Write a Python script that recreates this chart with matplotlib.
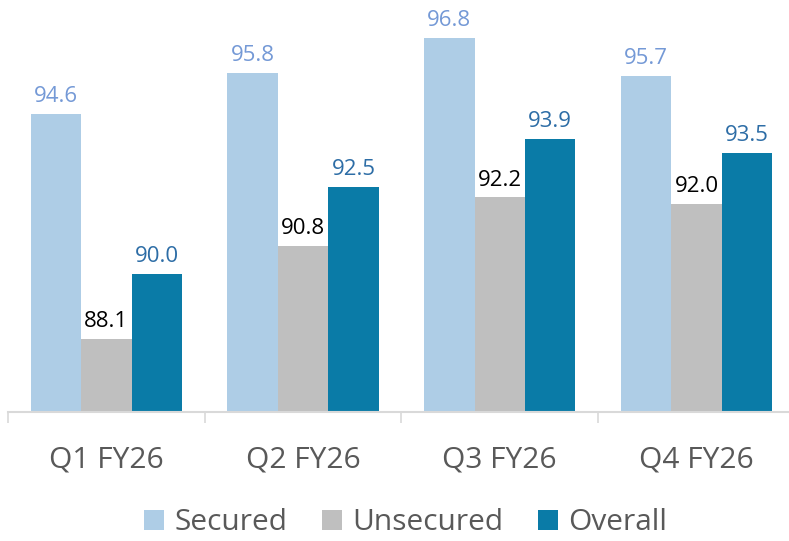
import matplotlib
matplotlib.use("Agg")
import matplotlib.pyplot as plt
import matplotlib.transforms as mtransforms
import numpy as np
from matplotlib.patches import Patch

plt.rcParams['font.family'] = ['Open Sans', 'DejaVu Sans']

categories = ["Q1 FY26", "Q2 FY26", "Q3 FY26", "Q4 FY26"]
secured = [94.6, 95.8, 96.8, 95.7]
unsecured = [88.1, 90.8, 92.2, 92.0]
overall = [90.0, 92.5, 93.9, 93.5]
series_names = ["Secured", "Unsecured", "Overall"]

bar_colors = ["#AECDE6", "#BFBFBF", "#0A7BA7"]
label_colors = ["#7499D6", "#000000", "#2D6DA6"]

W, H = 789, 541
fig = plt.figure(figsize=(W / 100, H / 100), dpi=100)
left_px, right_px = 8, 8 + 4 * 196.7
bottom_px = 412
ymin, ymax = 86.0, 98.0
px_per_unit = 34.6
top_px = bottom_px - (ymax - ymin) * px_per_unit
ax = fig.add_axes([left_px / W, 1 - bottom_px / H, (right_px - left_px) / W, (bottom_px - top_px) / H])
ax.set_xlim(0, 4)
ax.set_ylim(ymin, ymax)

x = np.arange(len(categories)) + 0.5
bw = 0.2565
data = [secured, unsecured, overall]
for i, (vals, c, lc) in enumerate(zip(data, bar_colors, label_colors)):
    xs = x + (i - 1) * bw
    ax.bar(xs, np.array(vals) - ymin, bottom=ymin, width=bw, color=c, edgecolor='none', zorder=2)
    for xi, v in zip(xs, vals):
        ax.annotate(f"{v:.1f}", (xi, v), xytext=(0, 5), textcoords='offset points',
                    ha='center', va='bottom', fontsize=16, color=lc)

for s in ['top', 'right', 'left']:
    ax.spines[s].set_visible(False)
ax.spines['bottom'].set_color('#D9D9D9')
ax.spines['bottom'].set_linewidth(1.5)
ax.set_yticks([])
ax.set_xticks([0, 1, 2, 3, 4])
ax.set_xticklabels([])
ax.tick_params(axis='x', which='major', length=8, width=1.2, color='#D9D9D9', direction='out')
off = mtransforms.ScaledTranslation(0, -48 / 100, fig.dpi_scale_trans)
for xi, cat in zip(x, categories):
    ax.text(xi, ymin, cat, transform=ax.transData + off, ha='center', va='center',
            fontsize=21.5, color='#595959')

handles = [Patch(facecolor=c, edgecolor='none') for c in bar_colors]
leg = fig.legend(handles, series_names, loc='center', bbox_to_anchor=(406 / W, 1 - 523 / H),
                 ncol=3, frameon=False, fontsize=21.5, handlelength=0.67, handleheight=0.67,
                 handletextpad=0.35, columnspacing=1.15, labelcolor='#595959')

fig.savefig("out.png", dpi=100)
